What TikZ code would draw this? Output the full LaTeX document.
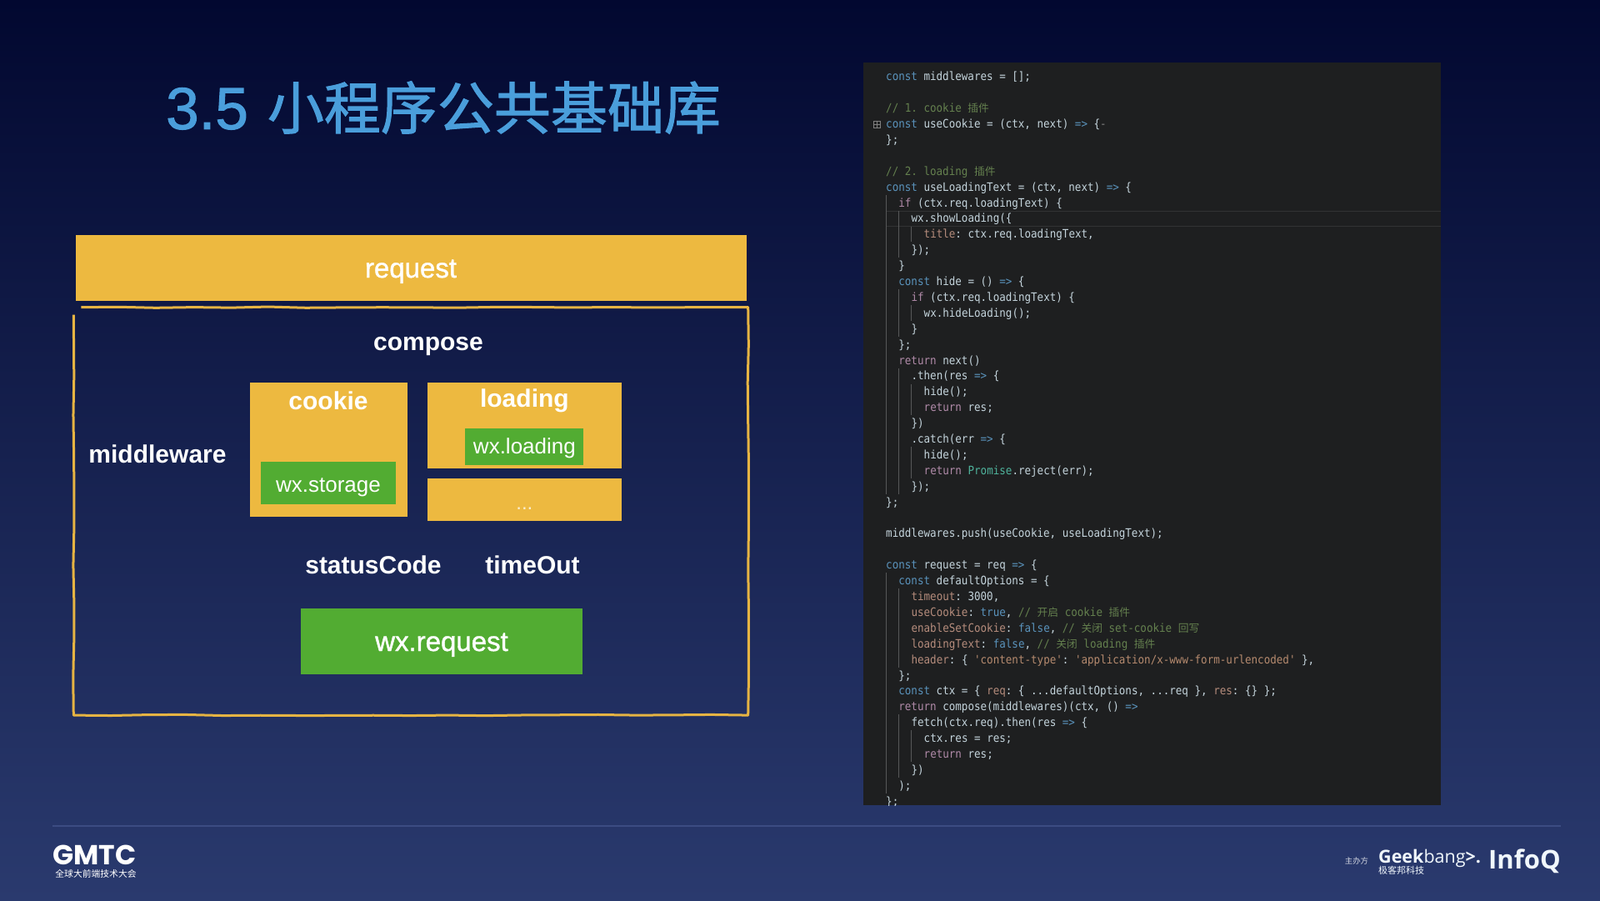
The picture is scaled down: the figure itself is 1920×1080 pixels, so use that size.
\documentclass[tikz,border=0pt]{standalone}
\usepackage{xcolor}
\usepackage{fontspec}
\usetikzlibrary{arrows.meta,positioning,calc,decorations.pathmorphing}
\setmainfont{Liberation Sans}
\setmonofont[FakeStretch=0.9]{DejaVu Sans Mono}
\newfontfamily\medfont[FakeBold=1.2]{Liberation Sans}
\newfontfamily\cjkfont{Noto Sans CJK SC}
\newfontfamily\titlelatin[FakeBold=1.5]{Liberation Sans}
\newfontfamily\titlecjk[FakeBold=1.5]{Noto Sans CJK SC}
\newfontfamily\logofont{Poppins}
\newfontfamily\geekfont{Open Sans}

\definecolor{bgtop}{HTML}{020830}
\definecolor{bgbottom}{HTML}{2A3A6E}
\definecolor{boxyellow}{HTML}{EDB940}
\definecolor{boxgreen}{HTML}{52AC32}
\definecolor{frameyellow}{HTML}{E6B443}
\definecolor{titleblue}{HTML}{4A9EDB}
\definecolor{footline}{HTML}{3C4C82}
\definecolor{panelgray}{HTML}{1E1F20}
\definecolor{codeplain}{HTML}{C4D4DC}
\definecolor{codekw}{HTML}{5A93BC}
\definecolor{codeflow}{HTML}{B08AA8}
\definecolor{codeprop}{HTML}{B58C7C}
\definecolor{codestr}{HTML}{B58A6E}
\definecolor{codecm}{HTML}{64804E}
\definecolor{codetype}{HTML}{4FB39C}

\newlength{\cw}
\setlength{\cw}{7.58pt}
\newcommand{\ind}[1]{\hspace*{#1\cw}}
\newcommand{\kw}[1]{\textcolor{codekw}{#1}}
\newcommand{\fl}[1]{\textcolor{codeflow}{#1}}
\newcommand{\pr}[1]{\textcolor{codeprop}{#1}}
\newcommand{\st}[1]{\textcolor{codestr}{#1}}
\newcommand{\cm}[1]{\textcolor{codecm}{#1}}
\newcommand{\zh}[1]{{\cjkfont\fontsize{12.75}{18.9}\selectfont #1}}

\begin{document}
\begin{tikzpicture}[
    x=1pt, y=-1pt,
    yellowbox/.style={fill=boxyellow, rectangle, inner sep=0pt,
        align=center, text=white, text height=31pt, text depth=7pt,
        font=\fontsize{33}{36}\medfont},
    greenbox/.style={fill=boxgreen, rectangle, inner sep=0pt,
        align=center, text=white, text height=31pt, text depth=7pt,
        font=\fontsize{33}{36}\medfont},
    smallgreen/.style={greenbox, text depth=5.5pt, font=\fontsize{26}{30}\selectfont},
    boldlbl/.style={inner sep=0pt, text=white, text height=24pt, text depth=6pt,
        font=\fontsize{30}{34}\selectfont\bfseries},
    framebox/.style={rectangle, inner sep=0pt},
    roughline/.style={draw=frameyellow, line width=3pt, line join=round,
        decorate, decoration={random steps, segment length=45pt, amplitude=0.7pt}},
    codepanel/.style={fill=panelgray, rectangle, inner sep=0pt},
    codetext/.style={inner sep=0pt, anchor=north west, align=left, text=codeplain,
        font=\fontsize{13.95}{18.9}\ttfamily\selectfont},
    guide/.style={draw=white!25!panelgray, line width=0.8pt},
    logotext/.style={inner sep=0pt, text=white}
]
\fill[top color=bgtop, bottom color=bgbottom] (0,0) rectangle (1920,1080);
\useasboundingbox (0,0) rectangle (1920,1080);

\node[inner sep=0pt, anchor=west, text=titleblue] (title) at (199,129)
    {\titlelatin\fontsize{71}{80}\selectfont 3.5\hspace{23pt}\titlecjk\fontsize{68}{80}\selectfont 小程序公共基础库};

\node[yellowbox, minimum width=805pt, minimum height=79pt] (request) at (493,321) {request};
\node[framebox, below=8pt of request, minimum width=809pt, minimum height=489pt] (composeframe) {};
\draw[roughline] ($(composeframe.north west)+(9,0)$) -- (composeframe.north east)
    -- (composeframe.south east) -- (composeframe.south west)
    -- ($(composeframe.north west)+(0,9)$);
\node[boldlbl] (compose) at (514,411) {compose};
\node[boldlbl] (middleware) at (189,546) {middleware};

\node[yellowbox, minimum width=189pt, minimum height=161pt] (cookie) at (394,539) {};
\node[boldlbl, below=9pt of cookie.north] (cookielbl) {cookie};
\node[smallgreen, above=15pt of cookie.south, minimum width=162pt, minimum height=51pt, text height=28pt] (wxstorage) {wx.storage};

\node[yellowbox, right=24pt of cookie.north east, anchor=north west, minimum width=233pt, minimum height=103pt] (loading) {};
\node[boldlbl, below=6pt of loading.north] (loadinglbl) {loading};
\node[smallgreen, above=4pt of loading.south, minimum width=142pt, minimum height=44pt, text height=23pt] (wxloading) {wx.loading};
\node[yellowbox, below=12pt of loading, minimum width=233pt, minimum height=51pt, text height=24pt, text depth=0pt,
    font=\fontsize{24}{28}\selectfont, text=white!75!boxyellow] (more) {...};

\node[boldlbl] (statuscode) at (448,679) {statusCode};
\node[boldlbl] (timeout) at (639,679) {timeOut};
\node[greenbox, minimum width=338pt, minimum height=79pt] (wxrequest) at (530,769) {wx.request};

\node[codepanel, minimum width=693pt, minimum height=891pt] (panel) at (1382.5,520.5) {};
\draw[white!9!panelgray, line width=0.8pt] (1063,253) -- (1729,253) (1063,271) -- (1729,271);
\foreach \gx/\ga/\gb in {1063.5/234/593, 1078.5/253/309, 1078.5/347/404, 1078.5/442/593,
    1093.5/272/290, 1093.5/366/385, 1093.5/461/498, 1093.5/536/574,
    1063.5/687/952, 1078.5/706/801, 1078.5/857/933, 1093.5/876/914}
    \draw[guide] (\gx,\ga) -- (\gx,\gb);
\node[draw=gray, fill=panelgray, line width=0.7pt, rectangle, inner sep=0pt, minimum size=8pt] (foldmark) at (1052,149) {};
\draw[gray, line width=0.7pt] (foldmark.west) -- (foldmark.east) (foldmark.north) -- (foldmark.south);

\begin{scope}
\clip (panel.north west) rectangle (panel.south east);
\node[codetext] (code) at (1063,86) {%
\kw{const} middlewares = [];\\
\mbox{}\\
\cm{// 1. cookie \zh{插件}}\\
\kw{const} useCookie = (ctx, next) \kw{=>} \{\textcolor{gray}{-}\\
\};\\
\mbox{}\\
\cm{// 2. loading \zh{插件}}\\
\kw{const} useLoadingText = (ctx, next) \kw{=>} \{\\
\ind{2}\fl{if} (ctx.req.loadingText) \{\\
\ind{4}wx.showLoading(\{\\
\ind{6}\pr{title}: ctx.req.loadingText,\\
\ind{4}\});\\
\ind{2}\}\\
\ind{2}\kw{const} hide = () \kw{=>} \{\\
\ind{4}\fl{if} (ctx.req.loadingText) \{\\
\ind{6}wx.hideLoading();\\
\ind{4}\}\\
\ind{2}\};\\
\ind{2}\fl{return} next()\\
\ind{4}.then(res \kw{=>} \{\\
\ind{6}hide();\\
\ind{6}\fl{return} res;\\
\ind{4}\})\\
\ind{4}.catch(err \kw{=>} \{\\
\ind{6}hide();\\
\ind{6}\fl{return} \textcolor{codetype}{Promise}.reject(err);\\
\ind{4}\});\\
\};\\
\mbox{}\\
middlewares.push(useCookie, useLoadingText);\\
\mbox{}\\
\kw{const} request = req \kw{=>} \{\\
\ind{2}\kw{const} defaultOptions = \{\\
\ind{4}\pr{timeout}: 3000,\\
\ind{4}\pr{useCookie}: \kw{true}, \cm{// \zh{开启} cookie \zh{插件}}\\
\ind{4}\pr{enableSetCookie}: \kw{false}, \cm{// \zh{关闭} set-cookie \zh{回写}}\\
\ind{4}\pr{loadingText}: \kw{false}, \cm{// \zh{关闭} loading \zh{插件}}\\
\ind{4}\pr{header}: \{ \st{'content-type'}: \st{'application/x-www-form-urlencoded'} \},\\
\ind{2}\};\\
\ind{2}\kw{const} ctx = \{ \pr{req}: \{ ...defaultOptions, ...req \}, \pr{res}: \{\} \};\\
\ind{2}\fl{return} compose(middlewares)(ctx, () \kw{=>}\\
\ind{4}fetch(ctx.req).then(res \kw{=>} \{\\
\ind{6}ctx.res = res;\\
\ind{6}\fl{return} res;\\
\ind{4}\})\\
\ind{2});\\
\};};
\end{scope}

\draw[footline, line width=1.6pt] (63,991) -- (1873,991);
\node[logotext, text height=23pt, text depth=0pt, font=\fontsize{33}{36}\logofont\bfseries] (gmtc) at (113.5,1026) {GMTC};
\node[logotext, text height=8pt, text depth=1pt, font=\fontsize{10.8}{12}\cjkfont] (gmtcsub) at (115,1049) {全球大前端技术大会};
\node[logotext, text=white!80!bgbottom, font=\fontsize{9.4}{11}\cjkfont] (host) at (1628,1033) {主办方};
\node[logotext, anchor=west, text=white!92!titleblue, text height=17pt, text depth=0pt, font=\fontsize{21.5}{26}\geekfont] (geekbang) at (1654,1027) {\textbf{Geek}bang\textbf{>.}};
\node[logotext, anchor=north west, text=white!92!titleblue, text height=9pt, text depth=1pt, font=\fontsize{11}{12}\cjkfont] (geekzh) at (1654,1039.5) {极客邦科技};
\node[logotext, anchor=west, text=white!92!titleblue, font=\fontsize{31}{34}\geekfont\bfseries] (infoq) at (1786,1033) {InfoQ};
\end{tikzpicture}
\end{document}
